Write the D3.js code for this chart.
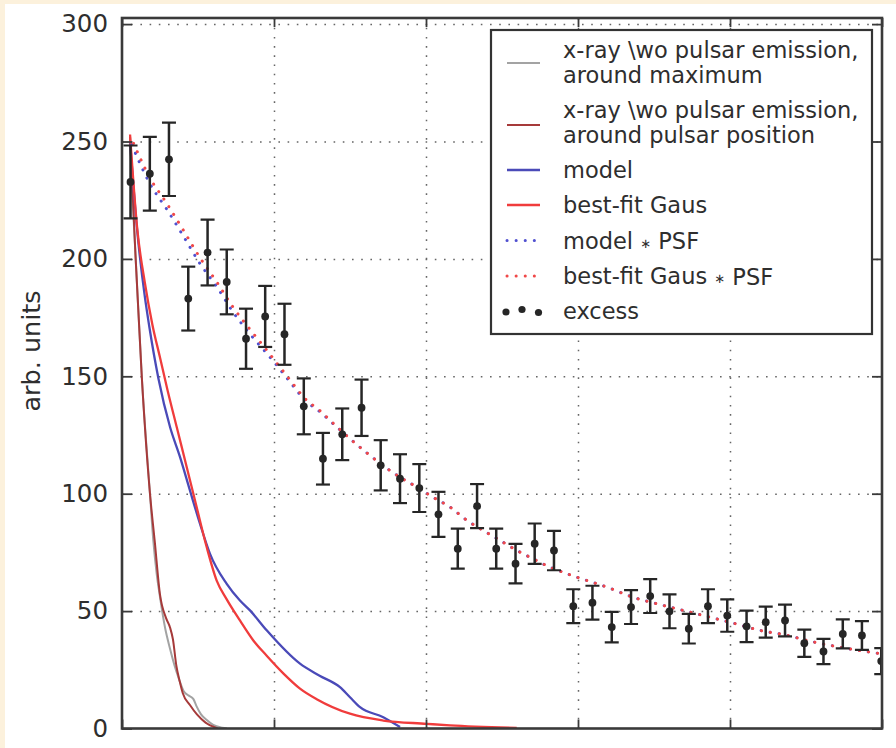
<!DOCTYPE html>
<html>
<head>
<meta charset="utf-8">
<script src="https://cdn.jsdelivr.net/npm/d3@7"></script>
<style>
  html, body { margin: 0; padding: 0; background: #fcf1dc; }
  svg { display: block; }
  text { font-family: "DejaVu Sans", sans-serif; fill: #2e2e2e; }
</style>
</head>
<body>
<svg id="chart" width="896" height="748"></svg>
<script>
// ---------------- data ----------------
const yTicks = [0, 50, 100, 150, 200, 250, 300];
const xTicks = [0, 1, 2, 3, 4, 5];

// excess points (measured data with errors)
const excessX = [0.056,0.183,0.309,0.436,0.563,0.689,0.816,0.942,1.069,1.196,1.322,1.449,1.576,1.702,1.829,1.956,2.082,2.209,2.336,2.462,2.589,2.715,2.842,2.969,3.095,3.222,3.349,3.475,3.602,3.729,3.855,3.982,4.109,4.235,4.362,4.489,4.615,4.742,4.868,4.995];
const excessY = [232.8,236.3,242.4,183.1,202.7,190.2,166,175.5,167.9,137.2,114.9,125.3,136.6,112.1,106.4,102.4,91.2,76.6,94.7,76.6,70.2,78.7,75.8,52.1,53.6,43.2,51.7,56.4,49.9,42.5,52.1,48.1,43.5,45.3,46,36.3,32.8,40.3,39.6,28.7];
const excessErr = [15.5,15.7,15.6,13.6,14,13.8,12.8,13,13,11.9,11,11,12,10.7,10.4,10.2,9.6,8.5,9.4,8.5,8.4,8.6,8.4,7.2,7.2,6.5,7.2,7.2,7.2,6.3,7.2,6.9,6.7,6.6,6.8,5.8,5.4,6.2,6.1,5.5];

// x-ray without pulsar emission, around maximum (grey)
const grayX = [0.053,0.07,0.09,0.13,0.184,0.206,0.228,0.25,0.283,0.316,0.345,0.37,0.405,0.44,0.47,0.49,0.52,0.56,0.60,0.66,0.69];
const grayY = [250,225,200,150,100,80,66,56,43,34,27,22,16,14,12.5,9.5,6,3.5,1.5,0.3,0];

// x-ray without pulsar emission, around pulsar position (dark red)
const darkX = [0.053,0.07,0.09,0.13,0.184,0.215,0.25,0.29,0.316,0.335,0.357,0.38,0.40,0.447,0.493,0.55,0.63];
const darkY = [252,228,200,150,100,80,57,47,43,38,27,20,15,10,6,2.5,0];

// model (blue)
const modelX = [0.053,0.1,0.15,0.18,0.24,0.316,0.382,0.447,0.513,0.579,0.689,0.776,0.842,0.952,1.171,1.30,1.434,1.50,1.566,1.719,1.829];
const modelY = [250,212,184,171,149,128.4,115.6,101.4,87.2,74.4,61.6,54.5,50.3,41.8,27.6,22.5,17.6,13.3,9.1,4.8,0.6];

// best-fit Gaus (red)
const gausX = [0.053,0.1,0.15,0.2,0.25,0.3,0.36,0.426,0.491,0.557,0.623,0.689,0.776,0.864,0.952,1.061,1.171,1.281,1.5,1.719,2.005,2.158,2.597];
const gausY = [253,213,190,172,158,144,128.4,111.3,94.3,77.3,63,55,46,37.5,31,23.5,17,12.5,6.3,3.4,2,1.3,0.3];

// convolved with PSF (dotted)
const psfX = [0.064,0.184,0.296,0.401,0.513,0.625,0.730,0.842,0.954,1.020,1.105,1.204,1.303,1.401,1.5,1.618,1.717,1.829,1.941,2.046,2.158,2.270,2.375,2.487,2.599,2.704,2.816,2.928,3.013,3.191,3.362,3.520,3.691,3.868,4.020,4.197,4.382,4.507,4.743,5.0];
const psfModelY = [248.6,232,221,210,198,188,177.4,168,159.6,154.5,147.6,139.8,134.8,129.1,123.4,117,112,107,102.8,98.5,94.3,88.6,84.4,80.1,75.8,72.3,68.7,65.9,64,60.2,55.9,53.1,50.3,47.4,44.9,41.8,39.6,37.5,34.4,31.8];
const psfGausY = [251,234.5,223.5,212.5,200.5,190,179.5,170,161,155.5,148.5,140.5,135.3,129.3,123.4,117,112,107,102.8,98.5,94.3,88.6,84.4,80.1,75.8,72.3,68.7,65.9,64,60.2,55.9,53.1,50.3,47.4,44.9,41.8,39.6,37.5,34.4,31.8];

// legend labels: [text before asterisk, text after asterisk] per line
const legendLabels = [
  [["x-ray \\wo pulsar emission,"], ["around maximum"]],
  [["x-ray \\wo pulsar emission,"], ["around pulsar position"]],
  [["model"]],
  [["best-fit Gaus"]],
  [["model ", " PSF"]],
  [["best-fit Gaus ", " PSF"]],
  [["excess"]]
];

// ---------------- drawing ----------------
const svg = d3.select("#chart");
const L = 122, R = 882, T = 18, B = 728.5;

svg.append("rect").attr("x", 5).attr("y", 4).attr("width", 891).attr("height", 744).attr("fill", "#ffffff");

const x = d3.scaleLinear().domain([0, 5]).range([L, R]);
const y = d3.scaleLinear().domain([0, 302.6]).range([B, T]);

svg.append("defs").append("clipPath").attr("id", "plotclip")
  .append("rect").attr("x", L).attr("y", T).attr("width", R - L).attr("height", B - T);

// grid
const gridG = svg.append("g");
gridG.append("g").attr("transform", `translate(0,${B})`)
  .call(d3.axisBottom(x).tickValues([1,2,3,4]).tickSize(-(B - T)).tickFormat(""))
  .call(g => g.select(".domain").remove())
  .call(g => g.selectAll("line").attr("stroke", "#666").attr("stroke-width", 1.5).attr("stroke-dasharray", "1.6,7.6"));
gridG.append("g").attr("transform", `translate(${L},0)`)
  .call(d3.axisLeft(y).tickValues([50,100,150,200,250,300]).tickSize(-(R - L)).tickFormat(""))
  .call(g => g.select(".domain").remove())
  .call(g => g.selectAll("line").attr("stroke", "#666").attr("stroke-width", 1.5).attr("stroke-dasharray", "1.6,7.6"));

const plot = svg.append("g").attr("clip-path", "url(#plotclip)");

function drawLine(xs, ys, color, width, dash) {
  const pts = xs.map((v, i) => [v, ys[i]]);
  const p = plot.append("path")
    .attr("d", d3.line().x(d => x(d[0])).y(d => y(d[1])).curve(d3.curveMonotoneX)(pts))
    .attr("fill", "none").attr("stroke", color).attr("stroke-width", width)
    .attr("stroke-linejoin", "round");
  if (dash) p.attr("stroke-dasharray", dash).attr("stroke-linecap", "round");
  return p;
}

const cGray = "#a3a3a3", cDark = "#a63a3a", cBlue = "#4a4ab8", cRed = "#f03c3c";

drawLine(grayX, grayY, cGray, 2);
drawLine(darkX, darkY, cDark, 2);
drawLine(modelX, modelY, cBlue, 2.3);
drawLine(gausX, gausY, cRed, 2.3);
drawLine(psfX, psfModelY, "#5050d0", 3, "0.1,9");
drawLine(psfX, psfGausY, "#f04848", 3, "0.1,9").attr("stroke-dashoffset", -4.5);

// error bars + points
const ex = excessX.map((v, i) => ({x: v, y: excessY[i], e: excessErr[i]}));
const eb = plot.append("g");
eb.selectAll("line.v").data(ex).join("line")
  .attr("x1", d => x(d.x)).attr("x2", d => x(d.x))
  .attr("y1", d => y(d.y + d.e)).attr("y2", d => y(d.y - d.e))
  .attr("stroke", "#262626").attr("stroke-width", 2.5);
eb.selectAll("line.ct").data(ex).join("line")
  .attr("x1", d => x(d.x) - 7).attr("x2", d => x(d.x) + 7)
  .attr("y1", d => y(d.y + d.e)).attr("y2", d => y(d.y + d.e))
  .attr("stroke", "#262626").attr("stroke-width", 2.2);
eb.selectAll("line.cb").data(ex).join("line")
  .attr("x1", d => x(d.x) - 7).attr("x2", d => x(d.x) + 7)
  .attr("y1", d => y(d.y - d.e)).attr("y2", d => y(d.y - d.e))
  .attr("stroke", "#262626").attr("stroke-width", 2.2);
eb.selectAll("circle").data(ex).join("circle")
  .attr("cx", d => x(d.x)).attr("cy", d => y(d.y)).attr("r", 3.9)
  .attr("fill", "#262626");

// axes: y tick labels and inward ticks (left)
svg.append("g").attr("transform", `translate(${L},0)`)
  .call(d3.axisLeft(y).tickValues(yTicks).tickSizeInner(-10).tickSizeOuter(0).tickPadding(14))
  .call(g => g.select(".domain").remove())
  .call(g => g.selectAll("line").attr("stroke", "#3a3a3a").attr("stroke-width", 1.8))
  .call(g => g.selectAll("text").attr("font-size", 24.5).attr("font-family", "DejaVu Sans").attr("fill", "#2e2e2e"));
// right ticks
svg.append("g").attr("transform", `translate(${R},0)`)
  .call(d3.axisRight(y).tickValues(yTicks).tickSizeInner(-10).tickSizeOuter(0).tickFormat(""))
  .call(g => g.select(".domain").remove())
  .call(g => g.selectAll("line").attr("stroke", "#3a3a3a").attr("stroke-width", 1.8));
// bottom / top ticks
svg.append("g").attr("transform", `translate(0,${B})`)
  .call(d3.axisBottom(x).tickValues(xTicks).tickSizeInner(-9).tickSizeOuter(0).tickFormat(""))
  .call(g => g.select(".domain").remove())
  .call(g => g.selectAll("line").attr("stroke", "#3a3a3a").attr("stroke-width", 1.8));
svg.append("g").attr("transform", `translate(0,${T})`)
  .call(d3.axisTop(x).tickValues(xTicks).tickSizeInner(-9).tickSizeOuter(0).tickFormat(""))
  .call(g => g.select(".domain").remove())
  .call(g => g.selectAll("line").attr("stroke", "#3a3a3a").attr("stroke-width", 1.8));

// frame
svg.append("rect").attr("x", L).attr("y", T).attr("width", R - L).attr("height", B - T)
  .attr("fill", "none").attr("stroke", "#3a3a3a").attr("stroke-width", 2.6);

// y label
svg.append("text").attr("transform", "translate(40,351) rotate(-90)")
  .attr("text-anchor", "middle").attr("font-size", 25.5).text("arb. units");

// legend
const lg = svg.append("g");
lg.append("rect").attr("x", 491).attr("y", 30).attr("width", 381).attr("height", 304)
  .attr("fill", "#ffffff").attr("stroke", "#333").attr("stroke-width", 2.2);

const rowY = [[50, 75], [110, 135], [170], [205], [240.5], [276], [310.5]];
const sampleY = [63, 125, 170, 205, 240.5, 276, 311];
const styles = [
  {c: cGray, w: 2}, {c: cDark, w: 2}, {c: cBlue, w: 2.6}, {c: cRed, w: 2.6},
  {c: "#5050d0", w: 3, dash: "0.1,9"}, {c: "#f04848", w: 3, dash: "0.1,9"}, null
];
legendLabels.forEach((lines, i) => {
  const st = styles[i];
  if (st) {
    const ln = lg.append("line").attr("x1", 507).attr("x2", 540)
      .attr("y1", sampleY[i]).attr("y2", sampleY[i])
      .attr("stroke", st.c).attr("stroke-width", st.w);
    if (st.dash) ln.attr("stroke-dasharray", st.dash).attr("stroke-linecap", "round");
  } else {
    [[506, 312], [522, 309.5], [538.5, 312.5]].forEach(p =>
      lg.append("circle").attr("cx", p[0]).attr("cy", p[1]).attr("r", 3.6).attr("fill", "#262626"));
  }
  lines.forEach((parts, j) => {
    const t = lg.append("text").attr("x", 563).attr("y", rowY[i][j]).attr("dy", "0.36em")
      .attr("font-size", 22.5);
    t.append("tspan").text(parts[0]);
    if (parts.length > 1) {
      t.append("tspan").attr("font-size", 13).attr("dy", "-0.05em").text("\u2217");
      t.append("tspan").attr("dy", "0.05em").text(parts[1]);
    }
  });
});
</script>
</body>
</html>
